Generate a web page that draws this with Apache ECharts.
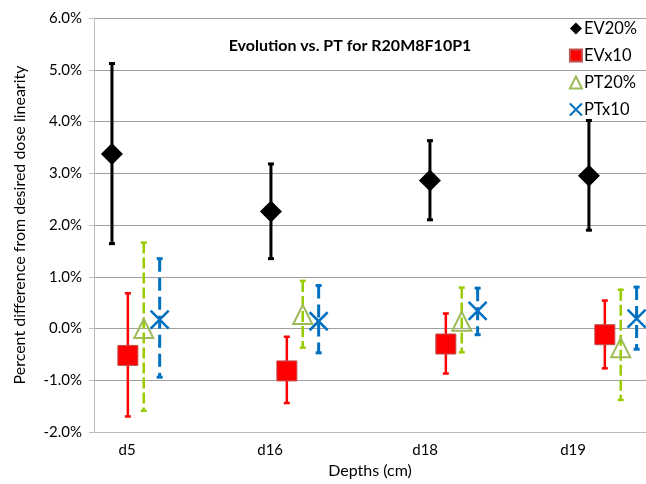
<!DOCTYPE html>
<html>
<head>
<meta charset="utf-8">
<script src="https://cdn.jsdelivr.net/npm/echarts@6/dist/echarts.min.js"></script>
<style>
  html, body { margin: 0; padding: 0; background: #fff; }
  #chart { width: 646px; height: 484px; }
</style>
</head>
<body>
<div id="chart"></div>
<script>
// depth groups, x position of the first series in each group
var groupX = [1, 2, 3, 4];
// offset of each series within a group
var seriesOffset = [0, 0.1, 0.2, 0.3];

// category labels and where they sit on the x scale
var depthLabels = ['d5', 'd16', 'd18', 'd19'];
var depthLabelX = [1.095, 1.995, 2.97, 3.9];

var seriesNames = ['EV20%', 'EVx10', 'PT20%', 'PTx10'];

// percent values
var ev20Value = [3.37, 2.26, 2.86, 2.95];
var ev20Low = [1.64, 1.35, 2.10, 1.90];
var ev20High = [5.12, 3.18, 3.63, 4.02];

var evx10Value = [-0.52, -0.82, -0.30, -0.12];
var evx10Low = [-1.70, -1.44, -0.87, -0.77];
var evx10High = [0.68, -0.16, 0.29, 0.54];

var pt20Value = [0.00, 0.27, 0.14, -0.37];
var pt20Low = [-1.59, -0.37, -0.46, -1.38];
var pt20High = [1.66, 0.92, 0.79, 0.75];

var ptx10Value = [0.17, 0.14, 0.34, 0.19];
var ptx10Low = [-0.94, -0.47, -0.12, -0.40];
var ptx10High = [1.35, 0.83, 0.78, 0.80];

var chart = echarts.init(document.getElementById('chart'));

function points(k, vals) {
    return vals.map(function (v, i) { return [groupX[i] + seriesOffset[k], v]; });
}
function bars(k, lows, highs) {
    return lows.map(function (lo, i) { return [groupX[i] + seriesOffset[k], lo, highs[i]]; });
}

// 误差线
function errorSeries(k, lows, highs, color, width, dash) {
    return {
        type: 'custom',
        name: seriesNames[k] + ' err',
        z: 2,
        silent: true,
        data: bars(k, lows, highs),
        renderItem: function (params, api) {
            var top = api.coord([api.value(0), api.value(2)]);
            var bot = api.coord([api.value(0), api.value(1)]);
            var cap = 3;
            var st = { stroke: color, lineWidth: width, lineDash: dash || null };
            var capSt = { stroke: color, lineWidth: width };
            return {
                type: 'group',
                children: [
                    { type: 'line', shape: { x1: top[0], y1: top[1], x2: bot[0], y2: bot[1] }, style: st },
                    { type: 'line', shape: { x1: top[0] - cap, y1: top[1], x2: top[0] + cap, y2: top[1] }, style: capSt },
                    { type: 'line', shape: { x1: bot[0] - cap, y1: bot[1], x2: bot[0] + cap, y2: bot[1] }, style: capSt }
                ]
            };
        }
    };
}

var font = 'Lato, "Open Sans", sans-serif';
var crossPath = 'path://M0,0 L10,10 M10,0 L0,10';

var option = {
    backgroundColor: '#fff',
    animation: false,
    textStyle: { fontFamily: font },
    title: {
        text: 'Evolution vs. PT for R20M8F10P1',
        left: 345,
        top: 33,
        textAlign: 'center',
        textStyle: { fontSize: 16, fontWeight: 'bold', color: '#000', fontFamily: font }
    },
    legend: {
        data: seriesNames,
        orient: 'vertical',
        right: 4,
        top: 15,
        itemGap: 10,
        itemWidth: 12,
        itemHeight: 12,
        textStyle: { fontSize: 16.5, color: '#000', fontFamily: font, padding: [0, 0, 0, -3] }
    },
    grid: { left: 94, right: 0, top: 18, bottom: 47, containLabel: false },
    xAxis: {
        type: 'value',
        min: 0.887,
        max: 4.359,
        name: 'Depths (cm)',
        nameLocation: 'middle',
        nameGap: 31,
        nameTextStyle: { fontSize: 16, color: '#000', fontFamily: font },
        axisLine: { show: true, onZero: false, lineStyle: { color: '#bdbdbd', width: 1 } },
        axisTick: { show: false },
        splitLine: { show: false },
        axisLabel: {
            customValues: depthLabelX,
            fontSize: 15,
            color: '#000',
            margin: 11,
            fontFamily: font,
            formatter: function (v) {
                var i = depthLabelX.indexOf(v);
                return i >= 0 ? depthLabels[i] : '';
            }
        }
    },
    yAxis: {
        type: 'value',
        min: -2,
        max: 6,
        interval: 1,
        name: 'Percent difference from desired dose linearity',
        nameLocation: 'middle',
        nameGap: 66,
        nameTextStyle: { fontSize: 16, color: '#000', fontFamily: font },
        axisLine: { show: true, lineStyle: { color: '#bdbdbd', width: 1 } },
        axisTick: { show: true, inside: false, length: 5, lineStyle: { color: '#bdbdbd' } },
        splitLine: { show: true, lineStyle: { color: '#a0a0a0', width: 1 } },
        axisLabel: {
            fontSize: 15,
            color: '#000',
            margin: 12,
            fontFamily: font,
            formatter: function (v) { return v.toFixed(1) + '%'; }
        }
    },
    series: [
        errorSeries(0, ev20Low, ev20High, '#000', 3),
        errorSeries(1, evx10Low, evx10High, '#ff0000', 2.5),
        errorSeries(2, pt20Low, pt20High, '#99cc00', 2.5, [11, 4]),
        errorSeries(3, ptx10Low, ptx10High, '#0070c0', 3, [13, 6]),
        {
            name: seriesNames[0], type: 'scatter', z: 3,
            symbol: 'diamond', symbolSize: 22,
            itemStyle: { color: '#000', opacity: 1 },
            data: points(0, ev20Value)
        },
        {
            name: seriesNames[1], type: 'scatter', z: 3,
            symbol: 'rect', symbolSize: 20,
            itemStyle: { color: '#ff0000', borderColor: '#c0504d', borderWidth: 1, opacity: 1 },
            data: points(1, evx10Value)
        },
        {
            name: seriesNames[2], type: 'scatter', z: 3,
            symbol: 'triangle', symbolSize: 19,
            itemStyle: { color: 'rgba(255,255,255,0)', borderColor: '#9bbb59', borderWidth: 2, opacity: 1 },
            data: points(2, pt20Value)
        },
        {
            name: seriesNames[3], type: 'scatter', z: 3,
            symbol: crossPath, symbolSize: 18,
            itemStyle: { color: 'none', borderColor: '#0070c0', borderWidth: 2.5, opacity: 1 },
            data: points(3, ptx10Value)
        }
    ]
};

chart.setOption(option);
</script>
</body>
</html>
